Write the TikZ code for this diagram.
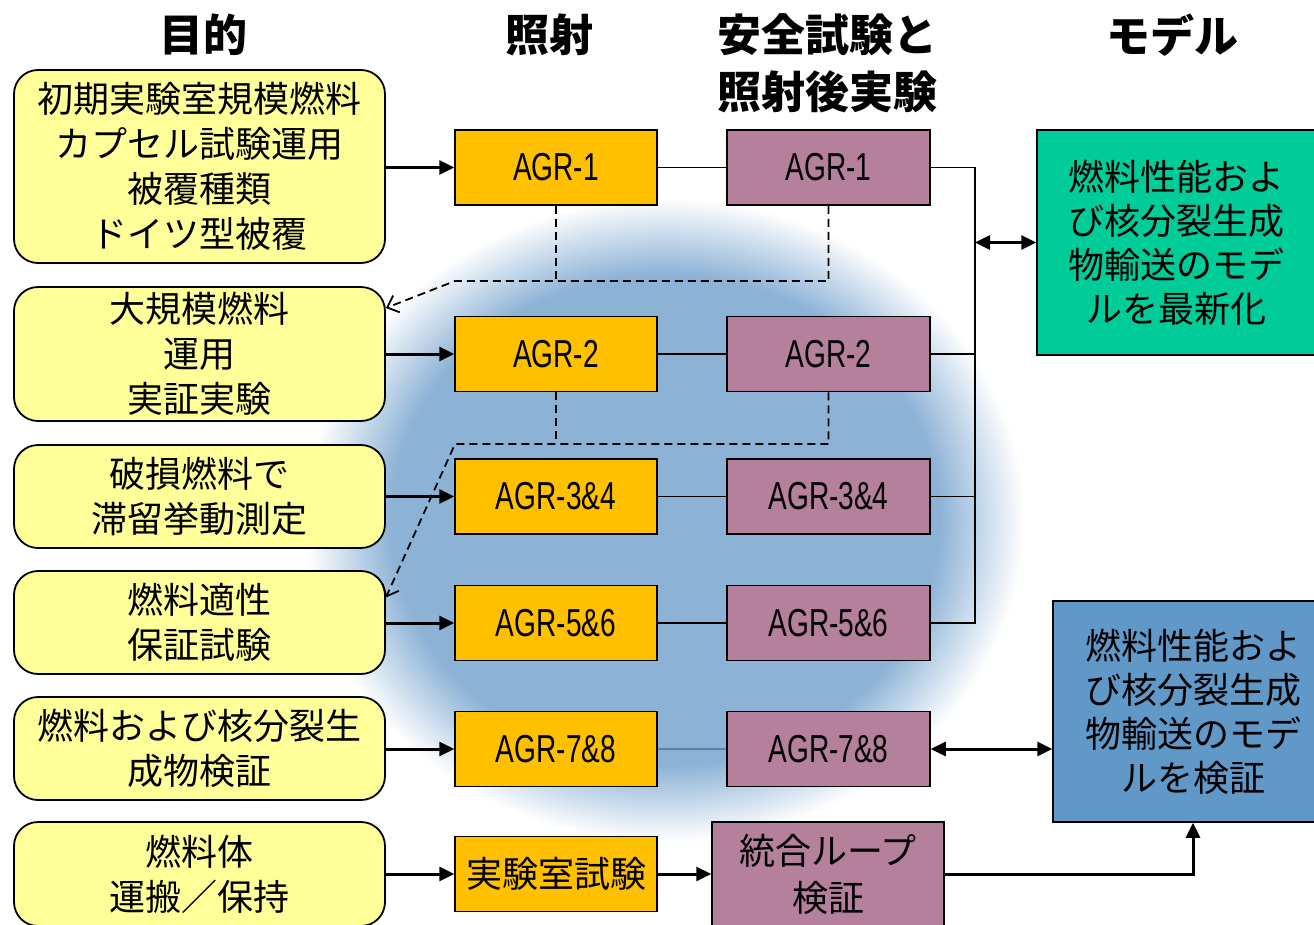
\documentclass[tikz,border=0pt]{standalone}
\usepackage{fontspec}
\setmainfont{Liberation Sans}
\newfontfamily\cjk{Noto Sans CJK JP}
\newfontfamily\lat[FakeStretch=0.72]{Liberation Sans}
\usetikzlibrary{arrows.meta}
\definecolor{yel}{HTML}{FFFF99}
\definecolor{org}{HTML}{FFC000}
\definecolor{mauve}{HTML}{B4809B}
\definecolor{grn}{HTML}{00CC99}
\definecolor{blu}{HTML}{6098C8}
\definecolor{glowc}{RGB}{140,178,214}
\definecolor{linkblue}{HTML}{5A80A8}
\pgfdeclareradialshading{glowshade}{\pgfpoint{0bp}{0bp}}{color(0bp)=(glowc); color(19bp)=(glowc); color(25bp)=(white); color(50bp)=(white)}
\tikzset{
  goal/.style={draw, line width=1.8pt, fill=yel, rounded corners=24pt, minimum width=371pt, align=center, inner sep=0pt, font=\cjk\fontsize{36}{45}\selectfont},
  irr/.style={draw, line width=1.5pt, fill=org, minimum width=202pt, minimum height=75pt, inner sep=0pt, align=center, font=\lat\fontsize{39}{42}\selectfont},
  pie/.style={draw, line width=1.5pt, fill=mauve, minimum width=203pt, minimum height=75pt, inner sep=0pt, align=center, font=\lat\fontsize{39}{42}\selectfont},
  model/.style={draw, line width=1.5pt, align=center, inner sep=0pt, font=\cjk\fontsize{36}{44}\selectfont},
  head/.style={align=center, inner sep=0pt, font=\cjk\bfseries\fontsize{44}{57}\selectfont},
  thickarrow/.style={line width=3pt, -{Triangle[length=15pt,width=14pt]}},
  dblarrow/.style={line width=3pt, {Triangle[length=15pt,width=14pt]}-{Triangle[length=15pt,width=14pt]}},
  thinline/.style={line width=1.5pt},
  dsh/.style={line width=1.8pt, dash pattern=on 8pt off 5pt},
}
\begin{document}
\begin{tikzpicture}[x=1pt,y=-1pt]
\useasboundingbox (0,0) rectangle (1314,924);
\shade[shading=glowshade] (665,520) ellipse [x radius=360, y radius=322];

% headers
\node[head] (h1) at (203,35) {目的};
\node[head] (h2) at (549,35) {照射};
\node[head] (h3) at (827,63) {安全試験と\\照射後実験};
\node[head] (h4) at (1172,35) {モデル};

% goals
\node[goal, minimum height=193pt] (L1) at (199.5,166.5) {初期実験室規模燃料\\カプセル試験運用\\被覆種類\\ドイツ型被覆};
\node[goal, minimum height=134pt] (L2) at (199.5,354) {大規模燃料\\運用\\実証実験};
\node[goal, minimum height=103pt] (L3) at (199.5,496.5) {破損燃料で\\滞留挙動測定};
\node[goal, minimum height=103pt] (L4) at (199.5,622.5) {燃料適性\\保証試験};
\node[goal, minimum height=103pt] (L5) at (199.5,748.5) {燃料および核分裂生\\成物検証};
\node[goal, minimum height=104pt] (L6) at (199.5,874) {燃料体\\運搬／保持};

% irradiation
\node[irr] (I1) at (556,167.5) {AGR-1};
\node[irr] (I2) at (556,354) {AGR-2};
\node[irr] (I3) at (556,496.5) {AGR-3\&4};
\node[irr] (I4) at (556,623) {AGR-5\&6};
\node[irr] (I5) at (556,749) {AGR-7\&8};
\node[irr, font=\cjk\fontsize{36}{44}\selectfont] (I6) at (556,874) {実験室試験};

% PIE
\node[pie] (P1) at (828.5,167.5) {AGR-1};
\node[pie] (P2) at (828.5,354) {AGR-2};
\node[pie] (P3) at (828.5,496.5) {AGR-3\&4};
\node[pie] (P4) at (828.5,623) {AGR-5\&6};
\node[pie] (P5) at (828.5,749) {AGR-7\&8};
\node[pie, minimum width=232pt, minimum height=104pt, font=\cjk\fontsize{36}{47}\selectfont] (Q) at (828,874) {統合ループ\\検証};

% models
\node[model, fill=grn, minimum width=279pt, minimum height=225pt] (G) at (1176.5,242.5) {燃料性能およ\\び核分裂生成\\物輸送のモデ\\ルを最新化};
\node[model, fill=blu, minimum width=280pt, minimum height=221pt] (B) at (1193,711.5) {燃料性能およ\\び核分裂生成\\物輸送のモデ\\ルを検証};

% goal -> irradiation
\foreach \a/\b in {L1/I1,L2/I2,L3/I3,L4/I4,L5/I5,L6/I6}
  \draw[thickarrow] (\a.east |- \b.west) -- (\b.west);

% irradiation -> PIE
\foreach \a/\b in {I1/P1,I2/P2,I3/P3,I4/P4}
  \draw[thinline] (\a.east) -- (\b.west);
\draw[thinline, draw=linkblue] (I5.east) -- (P5.west);
\draw[thickarrow] (I6.east) -- (I6.east -| Q.west);

% bus
\coordinate (bt) at (975,0);
\draw[thinline] (P1.east) -- (P1.east -| bt) -- (P4.east -| bt) -- (P4.east);
\draw[thinline] (P2.east) -- (P2.east -| bt);
\draw[thinline] (P3.east) -- (P3.east -| bt);
\draw[dblarrow] (bt |- G.west) -- (G.west);
\draw[dblarrow] (P5.east) -- (P5.east -| B.west);
\draw[thickarrow] (Q.east) -| (B.south);

% dashed feedback
\coordinate (d1) at (455,281);
\coordinate (d2) at (455,444);
\draw[dsh] (I1.south) -- (I1.south |- d1);
\draw[dsh, -{Straight Barb[length=10pt,width=18pt]}] (P1.south) -- (P1.south |- d1) -- (d1) -- ([yshift=46pt]L2.east);
\draw[dsh] (I2.south) -- (I2.south |- d2);
\draw[dsh, -{Straight Barb[length=10pt,width=18pt]}] (P2.south) -- (P2.south |- d2) -- (d2) -- ([yshift=25pt]L4.east);
\end{tikzpicture}
\end{document}
